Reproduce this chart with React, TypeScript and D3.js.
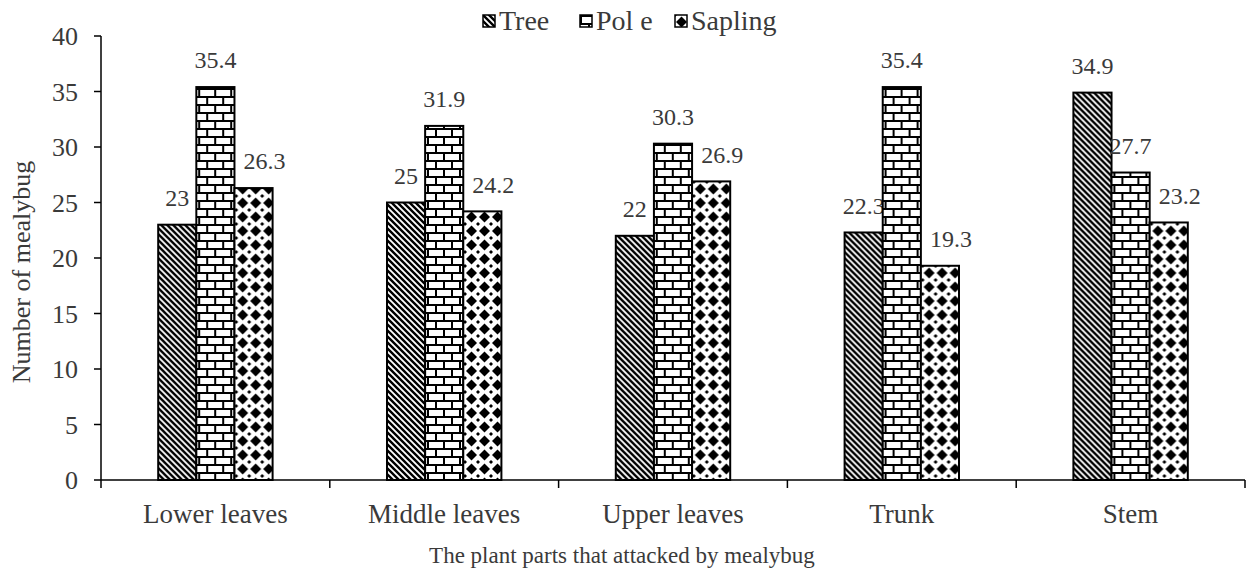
import React from 'react';
import * as d3 from 'd3';

const categories = ['Lower leaves', 'Middle leaves', 'Upper leaves', 'Trunk', 'Stem'];
const seriesNames = ['Tree', 'Pole', 'Sapling'];
const treeValues = [23, 25, 22, 22.3, 34.9];
const poleValues = [35.4, 31.9, 30.3, 35.4, 27.7];
const saplingValues = [26.3, 24.2, 26.9, 19.3, 23.2];
const valueLabels = [
  ['23', '25', '22', '22.3', '34.9'],
  ['35.4', '31.9', '30.3', '35.4', '27.7'],
  ['26.3', '24.2', '26.9', '19.3', '23.2'],
];
const yTicks = [0, 5, 10, 15, 20, 25, 30, 35, 40];
const legendLabels = ['Tree', 'Pol e', 'Sapling'];

const width = 1246;
const height = 571;
const margin = { top: 36, right: 1, bottom: 91, left: 101 };
const FONT = '"Liberation Serif", "Times New Roman", serif';
const TEXT = '#3a3a3a';

const patternIds = ['pat-tree', 'pat-pole', 'pat-sapling'];
// small nudge for the sapling labels, like in the original
const labelNudge = [0, 0, 11];

export default function App() {
  const series = [treeValues, poleValues, saplingValues];
  const innerH = height - margin.top - margin.bottom;

  const x0 = d3.scaleBand<string>()
    .domain(categories)
    .range([margin.left, width - margin.right])
    .padding(0);

  const groupW = x0.bandwidth() * 0.5;
  const x1 = d3.scaleBand<string>()
    .domain(seriesNames)
    .range([0, groupW])
    .padding(0);

  const y = d3.scaleLinear()
    .domain([0, 40])
    .range([margin.top + innerH, margin.top]);

  const y0 = y(0);
  const boundaries = categories.map(c => x0(c) as number).concat([width - margin.right]);

  return (
    <svg width={width} height={height} style={{ position: 'absolute', left: 0, top: 0, background: '#fff' }}>
      <defs>
        <pattern id="pat-tree" patternUnits="userSpaceOnUse" width={6} height={6}>
          <rect width={6} height={6} fill="#fff" />
          <path d="M-1,5 L1,7 M0,0 L6,6 M5,-1 L7,1" stroke="#000" strokeWidth={2.4} />
        </pattern>
        <pattern id="pat-pole" patternUnits="userSpaceOnUse" width={16} height={16}>
          <rect width={16} height={16} fill="#fff" />
          <path d="M0,1 H16 M0,9 H16 M1,0 V9 M9,8 V16" stroke="#000" strokeWidth={2} />
        </pattern>
        <pattern id="pat-sapling" patternUnits="userSpaceOnUse" width={13} height={14}>
          <rect width={13} height={14} fill="#fff" />
          <path d="M6.5,1.5 L12,7 L6.5,12.5 L1,7 Z" fill="#000" />
          <path d="M0,-2 L2,0 L0,2 L-2,0 Z M13,-2 L15,0 L13,2 L11,0 Z M0,12 L2,14 L0,16 L-2,14 Z M13,12 L15,14 L13,16 L11,14 Z" fill="#000" />
        </pattern>
      </defs>

      {/* bars */}
      {categories.map((c, ci) => (
        <g key={c} transform={`translate(${(x0(c) as number) + (x0.bandwidth() - groupW) / 2},0)`}>
          {seriesNames.map((s, si) => {
            const v = series[si][ci];
            const bx = x1(s) as number;
            return (
              <g key={s}>
                <rect
                  x={bx}
                  y={y(v)}
                  width={x1.bandwidth()}
                  height={y0 - y(v)}
                  fill={`url(#${patternIds[si]})`}
                  stroke="#000"
                  strokeWidth={2}
                />
                <text
                  x={bx + x1.bandwidth() / 2 + labelNudge[si]}
                  y={y(v) - 27}
                  dy="0.35em"
                  textAnchor="middle"
                  fontFamily={FONT}
                  fontSize={24}
                  fill={TEXT}
                >
                  {valueLabels[si][ci]}
                </text>
              </g>
            );
          })}
        </g>
      ))}

      {/* y axis */}
      <line x1={margin.left} x2={margin.left} y1={y(40)} y2={y0} stroke="#000" strokeWidth={1.5} />
      {yTicks.map(t => (
        <g key={t}>
          <line x1={margin.left - 7} x2={margin.left} y1={y(t)} y2={y(t)} stroke="#000" strokeWidth={1.5} />
          <text
            x={margin.left - 23}
            y={y(t)}
            dy="0.35em"
            textAnchor="end"
            fontFamily={FONT}
            fontSize={26}
            fill={TEXT}
          >
            {t}
          </text>
        </g>
      ))}

      {/* x axis */}
      <line x1={margin.left} x2={width - margin.right} y1={y0} y2={y0} stroke="#000" strokeWidth={1.5} />
      {boundaries.map((bx, i) => (
        <line key={i} x1={bx} x2={bx} y1={y0} y2={y0 + 8} stroke="#000" strokeWidth={1.5} />
      ))}
      {categories.map(c => (
        <text
          key={c}
          x={(x0(c) as number) + x0.bandwidth() / 2}
          y={y0 + 43}
          textAnchor="middle"
          fontFamily={FONT}
          fontSize={27}
          fill={TEXT}
        >
          {c}
        </text>
      ))}

      {/* axis titles */}
      <text
        x={622}
        y={563}
        textAnchor="middle"
        fontFamily={FONT}
        fontSize={23}
        fill={TEXT}
      >
        The plant parts that attacked by mealybug
      </text>
      <text
        transform={`translate(30,${272}) rotate(-90)`}
        textAnchor="middle"
        fontFamily={FONT}
        fontSize={26}
        fill={TEXT}
      >
        Number of mealybug
      </text>

      {/* legend */}
      {legendLabels.map((l, i) => {
        const lx = [483, 580, 675][i];
        return (
          <g key={l} transform={`translate(${lx},15)`}>
            <rect width={12} height={12} fill={`url(#${patternIds[i]})`} stroke="#000" strokeWidth={1.5} />
            <text x={16} y={15} fontFamily={FONT} fontSize={28} fill={TEXT}>{l}</text>
          </g>
        );
      })}
    </svg>
  );
}
